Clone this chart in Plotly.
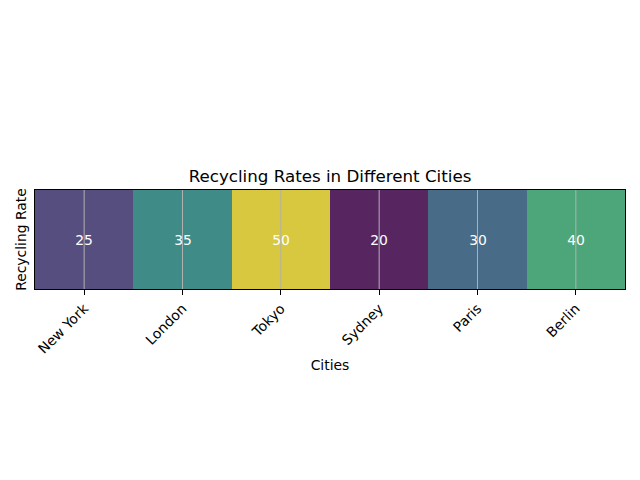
import plotly.graph_objects as go

# data
cities = ["New York", "London", "Tokyo", "Sydney", "Paris", "Berlin"]
rates = [25, 35, 50, 20, 30, 40]

# muted viridis, as it shows in the reference (alpha blended)
cscale = [
    [0.0, "#572660"],
    [1 / 6, "#574e80"],
    [1 / 3, "#486c88"],
    [0.5, "#3e8b87"],
    [2 / 3, "#4ca67a"],
    [1.0, "#d8c83f"],
]

fig = go.Figure()
fig.add_trace(go.Heatmap(
    z=[rates], x=cities, y=["Recycling Rate"],
    colorscale=cscale, zmin=20, zmax=50, showscale=False,
    text=[rates], texttemplate="%{text}",
    textfont=dict(color="white", size=13.9, family="DejaVu Sans"),
    xgap=0, ygap=0, hoverinfo="skip",
))

# grid lines drawn on top of the cells, like matplotlib
for c in cities:
    fig.add_shape(type="line", xref="x", yref="paper", x0=c, x1=c, y0=0, y1=1,
                  line=dict(color="#b0b0b0", width=1), layer="above")

fig.update_layout(
    width=640, height=480,
    margin=dict(l=35, r=15, t=190, b=191, autoexpand=False),
    paper_bgcolor="white", plot_bgcolor="white",
    font=dict(family="DejaVu Sans", size=13.9, color="black"),
    title=dict(text="Recycling Rates in Different Cities", x=0.5, xanchor="center", xref="paper",
               y=1 - 176 / 480, yanchor="middle", yref="container",
               font=dict(size=16.7, color="black")),
    showlegend=False,
)
fig.update_xaxes(
    title=dict(text="Cities", standoff=4, font=dict(size=13.9)),
    tickangle=-45, ticks="outside", ticklen=5, tickwidth=1, tickcolor="black",
    showline=True, linecolor="black", linewidth=1, mirror=True,
    showgrid=False, zeroline=False, automargin=False,
)
fig.update_yaxes(
    title=dict(text="Recycling Rate", standoff=4, font=dict(size=13.9)),
    showticklabels=False, ticks="",
    showline=True, linecolor="black", linewidth=1, mirror=True,
    showgrid=False, zeroline=False, automargin=False,
)

fig.write_html("out.html", config={"displayModeBar": False},
               post_script="document.body.style.margin='0px';")
